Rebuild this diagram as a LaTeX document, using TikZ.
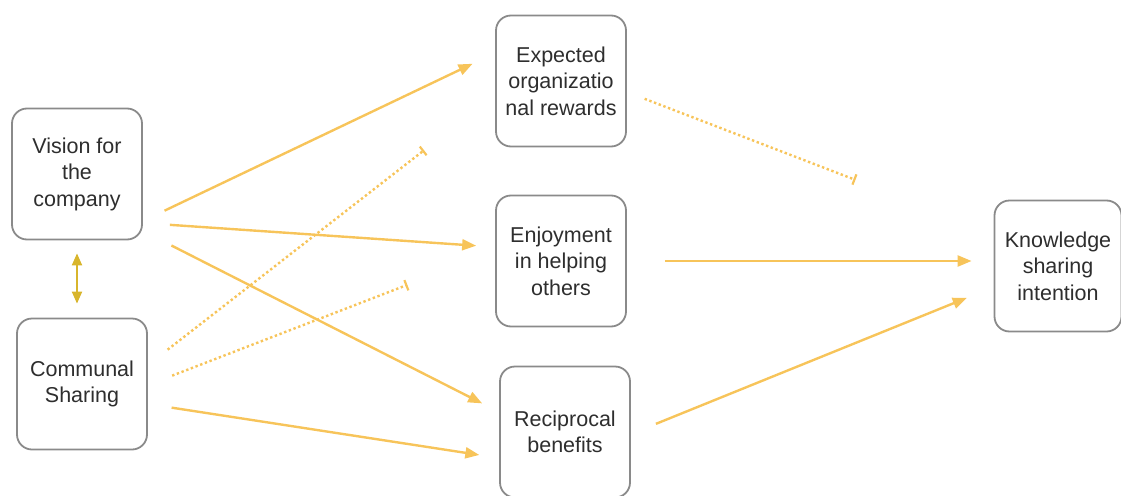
\documentclass[tikz,border=0pt]{standalone}
\usepackage{fontspec}
\setmainfont{Liberation Sans}
\usetikzlibrary{arrows.meta}
\definecolor{frame}{HTML}{8A8A8A}
\definecolor{ink}{HTML}{2E2E2E}
\definecolor{amber}{HTML}{F7C45A}
\definecolor{mustard}{HTML}{D8B52C}

\begin{document}
\begin{tikzpicture}[x=1pt,y=-1pt,
  box/.style={draw=frame,line width=1.8pt,rounded corners=15pt,fill=white,text=ink,align=center,inner sep=0pt,minimum width=130pt,minimum height=131pt,font=\fontsize{21.5}{26.5}\selectfont},
  link/.style={amber,line width=2.4pt,-{Triangle[length=14pt,width=11pt]}},
  weak/.style={amber,line width=2.4pt,dash pattern=on 2.4pt off 2.6pt,-{Bar[width=11pt,line width=2.2pt]}}]
\useasboundingbox (0,0) rectangle (1121,495);
\node[box] (vision) at (77,174) {Vision for\\the\\company};
\node[box] (communal) at (82,384) {Communal\\Sharing};
\node[box] (rewards) at (561,81) {Expected\\organizatio\\nal rewards};
\node[box] (enjoy) at (561,261) {Enjoyment\\in helping\\others};
\node[box] (recip) at (565,432) {Reciprocal\\benefits};
\node[box,minimum width=127pt] (intent) at (1058,266) {Knowledge\\sharing\\intention};
% vision and communal sharing
\draw[mustard,line width=2pt,{Triangle[length=12pt,width=10pt]}-{Triangle[length=12pt,width=10pt]},shorten <=13pt,shorten >=14pt] (vision.south) -- (vision.south |- communal.north);
% from vision
\draw[link,shorten <=24pt,shorten >=25pt] ([yshift=-47pt]vision.east) -- ([yshift=28pt]rewards.west);
\draw[link,shorten <=27pt,shorten >=19pt] ([yshift=-49pt]vision.east) -- ([yshift=14pt]enjoy.west);
\draw[link,shorten <=32pt,shorten >=19pt] ([yshift=-57pt]vision.east) -- ([yshift=20pt]recip.west);
% from communal sharing
\draw[weak,shorten <=25pt,shorten >=90pt] ([yshift=19pt]communal.east) -- ([yshift=-14pt]rewards.west);
\draw[weak,shorten <=26pt,shorten >=94pt] ([yshift=-1pt]communal.east) -- ([yshift=10pt]enjoy.west);
\draw[link,shorten <=24pt,shorten >=20pt] ([yshift=-20pt]communal.east) -- ([yshift=-26pt]recip.west);
% into intention
\draw[weak,shorten <=19pt,shorten >=148pt] ([yshift=-11pt]rewards.east) -- ([yshift=33pt]intent.west);
\draw[link,shorten <=38pt,shorten >=22pt] (enjoy.east) -- (enjoy.east -| intent.west);
\draw[link,shorten <=27pt,shorten >=29pt] ([yshift=-2pt]recip.east) -- ([yshift=-21pt]intent.west);
\end{tikzpicture}
\end{document}
